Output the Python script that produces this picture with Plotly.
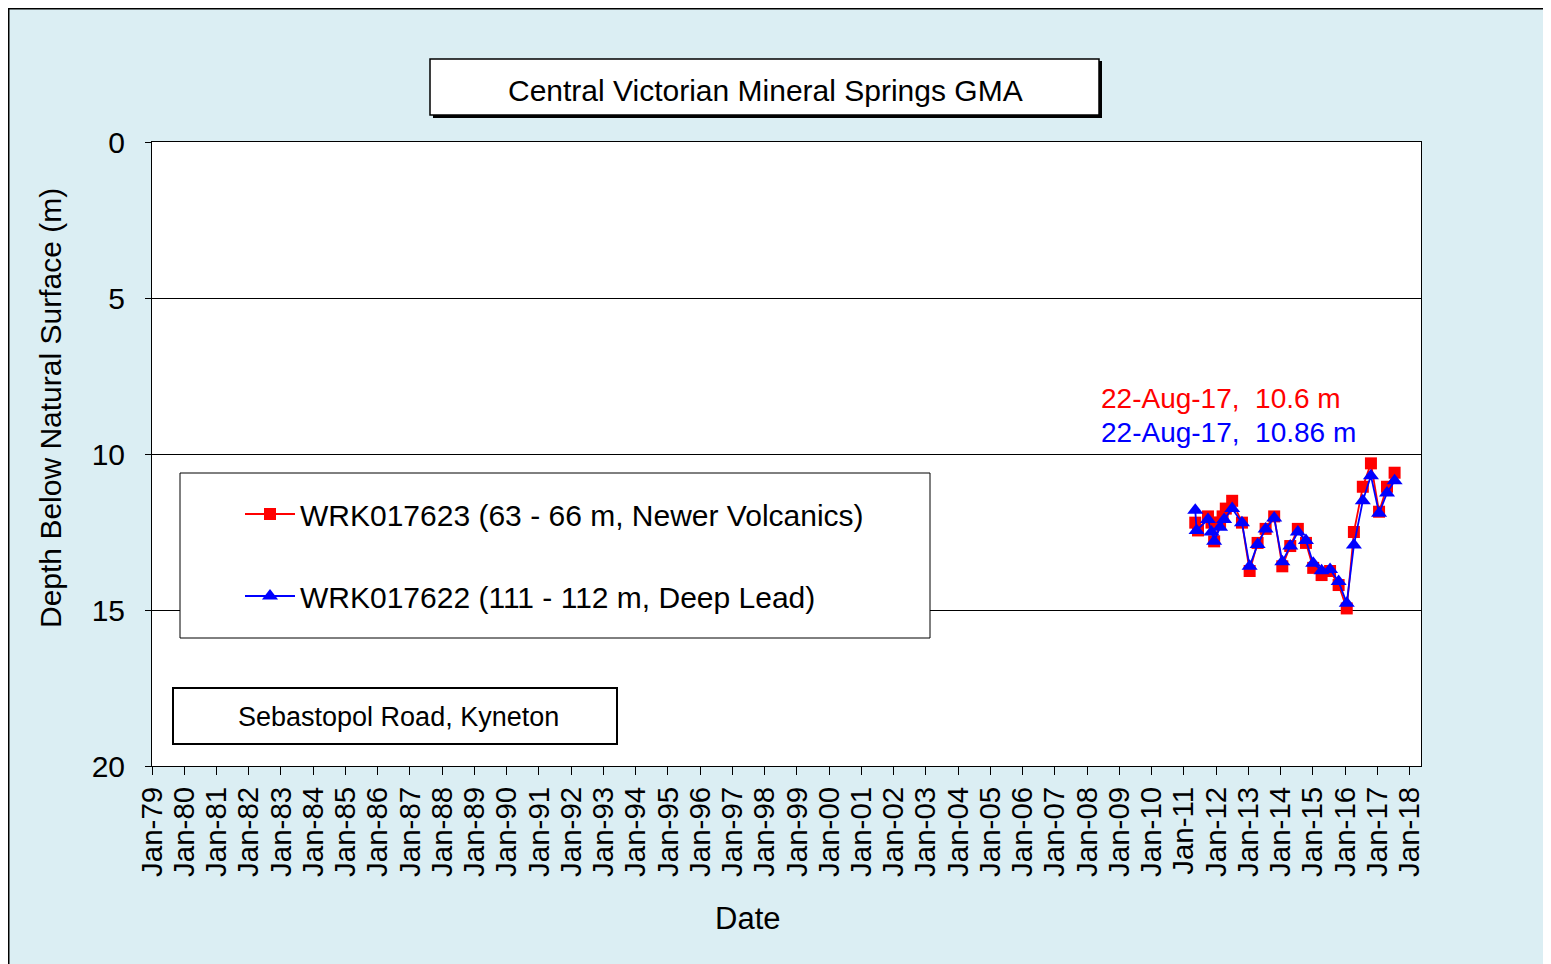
import plotly.graph_objects as go

# ---------------- data ----------------
red_dates = ["2011-05-10", "2011-06-10", "2011-10-01", "2011-11-10", "2011-12-10",
             "2012-02-15", "2012-03-15", "2012-04-20", "2012-07-01", "2012-10-20",
             "2013-01-15", "2013-04-15", "2013-07-15", "2013-10-20", "2014-01-20",
             "2014-04-20", "2014-07-15", "2014-10-15", "2015-01-05", "2015-04-10",
             "2015-07-15", "2015-10-20", "2016-01-20", "2016-04-10", "2016-07-20",
             "2016-10-20", "2017-01-20", "2017-04-20", "2017-07-15"]
red_depth = [12.2, 12.45, 12.0, 12.2, 12.8,
             12.2, 12.0, 11.75, 11.5, 12.2,
             13.75, 12.85, 12.4, 12.0, 13.6,
             12.95, 12.4, 12.85, 13.65, 13.88,
             13.75, 14.2, 14.95, 12.5, 11.05,
             10.3, 11.85, 11.05, 10.6]

blue_dates = ["2011-05-10", "2011-05-25", "2011-10-01", "2011-11-10", "2011-12-10",
              "2012-02-15", "2012-04-01", "2012-07-01", "2012-10-20", "2013-01-15",
              "2013-04-15", "2013-07-15", "2013-10-20", "2014-01-20", "2014-04-20",
              "2014-07-15", "2014-10-15", "2015-01-05", "2015-04-10", "2015-07-15",
              "2015-10-20", "2016-01-20", "2016-04-10", "2016-07-20", "2016-10-20",
              "2017-01-20", "2017-04-20", "2017-07-15"]
blue_depth = [11.8, 12.45, 12.1, 12.5, 12.8,
              12.35, 12.1, 11.75, 12.2, 13.6,
              12.9, 12.4, 12.05, 13.45, 12.95,
              12.5, 12.77, 13.5, 13.74, 13.7,
              14.09, 14.78, 12.92, 11.5, 10.7,
              11.9, 11.25, 10.86]

red_name = "WRK017623 (63 - 66 m, Newer Volcanics)"
blue_name = "WRK017622 (111 - 112 m, Deep Lead)"
title_text = "Central Victorian Mineral Springs GMA"
site_text = "Sebastopol Road, Kyneton"
red_label = "22-Aug-17,  10.6 m"
blue_label = "22-Aug-17,  10.86 m"
y_ticks = [0, 5, 10, 15, 20]

# ---------------- geometry helpers (screen pixels, page has 8px body margin) ----------------
OFF = 8
W, H = 1551, 964
L, R, T, B = 152, 1421, 142, 766


def px(x):
    return (x - L) / (R - L)


def py(y):
    return (B - y) / (B - T)


FONT = "Liberation Sans, Arial, sans-serif"
BG = "#DBEEF3"

fig = go.Figure()
fig.add_trace(go.Scatter(
    x=red_dates, y=red_depth, name=red_name, mode="lines+markers",
    line=dict(color="#FF0000", width=1.8),
    marker=dict(symbol="square", size=12, color="#FF0000"),
    legendgroup="a"))
fig.add_trace(go.Scatter(
    x=blue_dates, y=blue_depth, name=blue_name, mode="lines+markers",
    line=dict(color="#0000FF", width=1.8),
    marker=dict(symbol="triangle-up", size=14, color="#0000FF"),
    legendgroup="b"))

shapes = []
# outer chart border (top & left visible)
shapes.append(dict(type="line", xref="paper", yref="paper",
                   x0=px(OFF), x1=px(1600), y0=py(OFF), y1=py(OFF),
                   line=dict(color="black", width=3)))
shapes.append(dict(type="line", xref="paper", yref="paper",
                   x0=px(OFF), x1=px(OFF), y0=py(OFF), y1=py(1000),
                   line=dict(color="black", width=3)))
# title box with shadow
shapes.append(dict(type="rect", xref="paper", yref="paper",
                   x0=px(433), x1=px(1102), y0=py(118), y1=py(61),
                   fillcolor="black", line=dict(width=0)))
shapes.append(dict(type="rect", xref="paper", yref="paper",
                   x0=px(430), x1=px(1099), y0=py(115), y1=py(59),
                   fillcolor="white", line=dict(color="black", width=1.5)))
# legend box
shapes.append(dict(type="rect", xref="paper", yref="paper", layer="above",
                   x0=px(180), x1=px(930), y0=py(638), y1=py(473),
                   fillcolor="white", line=dict(color="black", width=1)))
# site box
shapes.append(dict(type="rect", xref="paper", yref="paper", layer="above",
                   x0=px(173), x1=px(617), y0=py(744), y1=py(688),
                   fillcolor="white", line=dict(color="black", width=2)))

annotations = [
    dict(text=title_text, x=px(765), y=py(90), xref="paper", yref="paper",
         showarrow=False, font=dict(family=FONT, size=30, color="black"),
         xanchor="center", yanchor="middle"),
    dict(text=site_text, x=px(398), y=py(717), xref="paper", yref="paper",
         showarrow=False, font=dict(family=FONT, size=27, color="black"),
         xanchor="center", yanchor="middle"),
    dict(text=red_label, x=px(1099), y=py(398), xref="paper", yref="paper",
         showarrow=False, font=dict(family=FONT, size=28, color="#FF0000"),
         xanchor="left", yanchor="middle"),
    dict(text=blue_label, x=px(1099), y=py(432), xref="paper", yref="paper",
         showarrow=False, font=dict(family=FONT, size=28, color="#0000FF"),
         xanchor="left", yanchor="middle"),
    dict(text="Date", x=px(747), y=py(918), xref="paper", yref="paper",
         showarrow=False, font=dict(family=FONT, size=31, color="black"),
         xanchor="center", yanchor="middle"),
    dict(text="Depth Below Natural Surface (m)", x=px(50), y=py(408),
         xref="paper", yref="paper", textangle=-90,
         showarrow=False, font=dict(family=FONT, size=30, color="black"),
         xanchor="center", yanchor="middle"),
]

fig.update_layout(
    width=W, height=H,
    margin=dict(l=L - OFF, r=W - (R - OFF), t=T - OFF, b=H - (B - OFF), autoexpand=False),
    paper_bgcolor=BG, plot_bgcolor="white",
    font=dict(family=FONT, size=30, color="black"),
    shapes=shapes, annotations=annotations,
    showlegend=True,
    legend=dict(x=px(240), y=py(488), xanchor="left", yanchor="top",
                bgcolor="rgba(0,0,0,0)", borderwidth=0,
                font=dict(family=FONT, size=30, color="black"),
                traceorder="grouped", tracegroupgap=40, itemwidth=50),
    xaxis=dict(type="date", range=["1979-01-01", "2018-05-10"],
               tick0="1979-01-01", dtick="M12", tickformat="%b-%y",
               tickangle=-90, ticks="outside", ticklen=8, tickcolor="black",
               showgrid=False, showline=True, linecolor="black", linewidth=1,
               mirror=True, zeroline=False,
               tickfont=dict(family=FONT, size=29.5, color="black")),
    yaxis=dict(range=[20, 0], tickvals=y_ticks, ticks="outside", ticklen=6,
               tickcolor="black", showgrid=True, gridcolor="black", gridwidth=1,
               showline=True, linecolor="black", linewidth=1, mirror=True,
               zeroline=False, ticklabelstandoff=14,
               tickfont=dict(family=FONT, size=30, color="black")),
)

fig.write_html("out.html")
